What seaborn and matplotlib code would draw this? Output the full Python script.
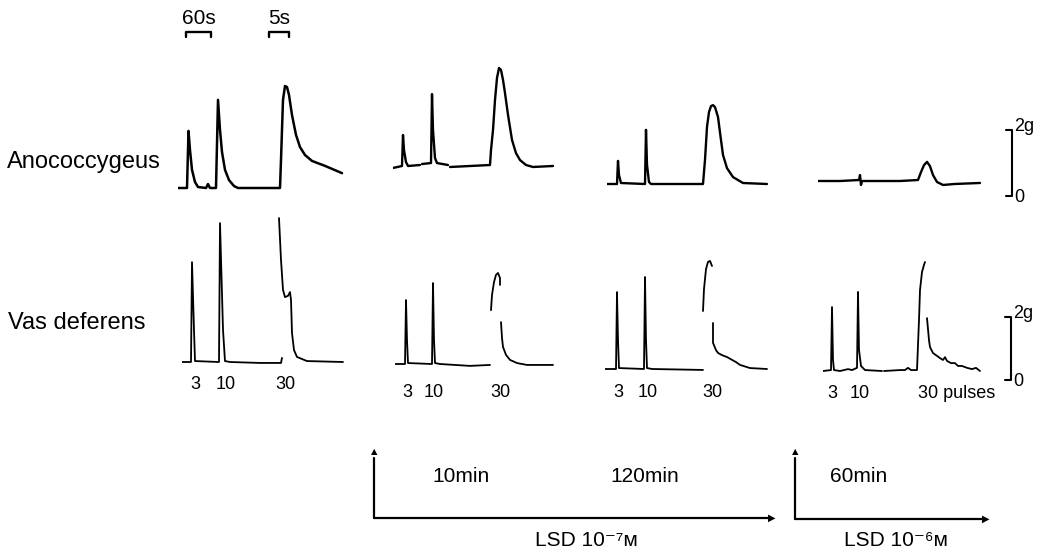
import pandas as pd
import matplotlib.pyplot as plt
import seaborn as sns

sns.set_theme(style="white")
plt.rcParams['font.family'] = ['Liberation Sans', 'DejaVu Sans']
plt.rcParams['text.color'] = 'black'

W, H = 1046, 553

# Trazos digitalizados: segmentos de (tiempo en unidades de papel, tension en g)
# Anococcygeus
ano_control = [[(0, 0), (9, 0), (10.5, 1.73), (12, 1.15), (14, 0.55), (17, 0.18), (20, 0.03), (28, 0),
                (30, 0.12), (31, 0.06), (32, 0), (38, 0), (40, 2.67), (42, 1.76), (44, 1.09), (47, 0.55),
                (51, 0.24), (56, 0.06), (60, 0), (102, 0), (103, 0.85), (104, 1.76), (105, 2.67), (107, 3.09),
                (109, 3.06), (111, 2.82), (114, 2.21), (118, 1.61), (122, 1.24), (127, 1.0), (134, 0.82),
                (147, 0.67), (164, 0.45)]]
ano_10min = [[(0, -0.06), (9, 0), (10, 0.94), (11, 0.48), (13, 0.12), (15, 0), (27, 0.03)],
             [(29, 0.06), (38, 0.09), (39, 2.18), (40, 1.09), (42, 0.24), (44, 0.09), (55, 0.03)],
             [(57, -0.03), (77, 0), (97, 0.03), (98, 0.48), (100, 1.09), (102, 2.0), (104, 2.67), (106, 2.97),
              (108, 2.91), (110, 2.61), (112, 2.21), (115, 1.55), (119, 0.79), (123, 0.39), (127, 0.18),
              (133, 0.03), (140, -0.03), (160, 0)]]
ano_120min = [[(0, 0), (10, 0), (11, 0.70), (12, 0.27), (14, 0.03), (38, 0), (39, 1.64), (40, 0.58),
               (42, 0.06), (44, 0), (96, 0), (98, 0.73), (100, 1.73), (102, 2.18), (104, 2.36), (106, 2.39),
               (108, 2.33), (111, 2.03), (114, 1.33), (116, 0.88), (120, 0.48), (126, 0.21), (136, 0.03),
               (160, 0)]]
ano_60min = [[(0, 0), (22, 0), (41, 0.03), (42, 0.18), (43, -0.12), (44, 0), (82, 0), (100, 0.03),
              (103, 0.27), (106, 0.48), (109, 0.58), (112, 0.45), (115, 0.18), (119, -0.03), (125, -0.12),
              (137, -0.09), (162, -0.06)]]

# Vas deferens
vas_control = [[(0, 0), (9, 0), (10, 3.17), (12, 1.02), (13, 0.03), (37, 0), (38, 4.41), (41, 1.02),
                (43, 0.03), (48, 0), (78, -0.03), (99, -0.03), (100, 0.13)],
               [(97, 4.57), (99, 3.24), (101, 2.29), (103, 2.06), (106, 2.1), (108, 2.22), (109, 1.97),
                (110, 0.92), (112, 0.38), (115, 0.16), (125, 0.03), (161, 0)]]
vas_10min = [[(0, 0), (10, 0), (11, 2.03), (12, 0.76), (13, 0.03), (37, 0), (38, 2.57), (39, 0.76),
              (40, 0.03), (45, 0), (75, -0.06), (95, -0.03)],
             [(96, 1.71), (97, 2.19), (99, 2.6), (101, 2.83), (103, 2.89), (105, 2.73), (105, 2.51)],
             [(106, 1.33), (107, 0.83), (108, 0.54), (111, 0.29), (115, 0.13), (122, 0.03), (132, -0.03),
              (158, -0.03)]]
vas_120min = [[(0, 0), (11, 0), (12, 2.44), (13, 0.92), (14, 0.03), (39, 0), (40, 2.92), (41, 0.92),
               (42, 0.03), (47, 0), (98, -0.03)],
              [(98, 1.84), (99, 2.54), (101, 3.17), (103, 3.40), (105, 3.43), (107, 3.27)],
              [(108, 1.46), (108, 0.83), (111, 0.60), (113, 0.51), (117, 0.44), (122, 0.38), (127, 0.29),
               (131, 0.22), (135, 0.13), (145, 0.03), (162, 0)]]
vas_60min = [[(0, 0), (8, 0.03), (9, 2.03), (10, 0.35), (11, 0.03), (17, 0), (25, 0.06), (29, 0.03),
              (34, 0.10), (35, 2.51), (36, 0.67), (38, 0.16), (42, 0.03), (59, 0)],
             [(61, 0), (77, 0.03), (82, 0.03), (85, 0.10), (88, 0.03), (94, 0.03), (96, 1.62), (97, 2.57),
              (99, 3.14), (101, 3.37), (102, 3.46)],
             [(104, 1.68), (106, 0.98), (107, 0.76), (110, 0.57), (114, 0.48), (117, 0.41), (120, 0.35),
              (122, 0.44), (124, 0.32), (128, 0.25), (132, 0.25), (135, 0.16), (139, 0.16), (144, 0.10),
              (149, 0.06), (153, 0.10), (157, 0)]]

pulsos = ['3', '10', '30']
tiempos = ['10min', '120min', '60min']
tratamientos = ['LSD 10\u207b\u2077\u1d0d', 'LSD 10\u207b\u2076\u1d0d']
tejidos = ['Anococcygeus', 'Vas deferens']

fig = plt.figure(figsize=(W / 100, H / 100), dpi=100)


def panel(x0, base, gpx, segs, lw):
    # ejes con 1 unidad = 1 px en x y gpx px por gramo en y
    ax = fig.add_axes([x0 / W, 1 - (base + gpx) / H, 200 / W, 6 * gpx / H])
    df = pd.DataFrame([(i, t, g) for i, s in enumerate(segs) for t, g in s], columns=['seg', 't', 'g'])
    sns.lineplot(data=df, x='t', y='g', units='seg', estimator=None, sort=False,
                 color='black', lw=lw, ax=ax, legend=False)
    ax.set_xlim(0, 200)
    ax.set_ylim(-1, 5)
    ax.axis('off')
    return ax


# fila superior
ax_a1 = panel(178, 188, 33, ano_control, 1.8)
panel(393, 166, 33, ano_10min, 1.7)
panel(607, 184, 33, ano_120min, 1.7)
ax_a4 = panel(818, 181, 33, ano_60min, 1.7)

# fila inferior
ax_v1 = panel(182, 362, 31.5, vas_control, 1.3)
ax_v2 = panel(395, 364, 31.5, vas_10min, 1.3)
ax_v3 = panel(605, 369, 31.5, vas_120min, 1.3)
ax_v4 = panel(823, 371, 31.5, vas_60min, 1.3)

# numeros de pulsos
for ax, xs, yy in [(ax_v1, [13, 44, 103], -0.73), (ax_v2, [12, 39, 105], -0.92), (ax_v3, [13, 43, 107], -0.76)]:
    for x, p in zip(xs, pulsos):
        ax.text(x, yy, p, ha='center', va='center', fontsize=13)
ax_v4.text(9, -0.70, pulsos[0], ha='center', va='center', fontsize=13)
ax_v4.text(37, -0.70, pulsos[1], ha='center', va='center', fontsize=13)
ax_v4.text(95, -0.70, pulsos[2] + ' pulses', ha='left', va='center', fontsize=13)

# barras de escala 2g
for ax, x, y0, gpx in [(ax_a4, 194, -0.45, 33), (ax_v4, 188, -0.29, 31.5)]:
    tk = 6
    ax.plot([x - tk, x, x, x - tk], [y0 + 2, y0 + 2, y0, y0], color='black', lw=1.5, clip_on=False)
    ax.text(x + 2, y0 + 2 + 0.1, '2g', ha='left', va='center', fontsize=13)
    ax.text(x + 2, y0 - 0.05, '0', ha='left', va='center', fontsize=13)

# escalas de tiempo
for x1, x2, lab in [(8, 33, '60s'), (91, 111, '5s')]:
    ax_a1.plot([x1, x1, x2, x2], [4.58, 4.73, 4.73, 4.58], color='black', lw=1.7, clip_on=False)
    ax_a1.text((x1 + x2) / 2, 5.15, lab, ha='center', va='center', fontsize=15)

# etiquetas de tejido
fig.text(7 / W, 1 - 162 / H, tejidos[0], ha='left', va='center', fontsize=17)
fig.text(8 / W, 1 - 323 / H, tejidos[1], ha='left', va='center', fontsize=17)

# flechas de tiempo de tratamiento
for xv, xh, yb in [(374, 776, 518), (795, 990, 519)]:
    fig.add_artist(plt.Line2D([xv / W, xv / W], [1 - yb / H, 1 - 458 / H], color='black', lw=1.6))
    fig.add_artist(plt.Line2D([xv / W, (xh - 8) / W], [1 - yb / H, 1 - yb / H], color='black', lw=1.6))
    fig.text(xv / W, 1 - 452 / H, '\u25b2', ha='center', va='center', fontsize=6, family='DejaVu Sans')
    fig.text((xh - 4) / W, 1 - yb / H, '\u25b6', ha='center', va='center', fontsize=7, family='DejaVu Sans')

for x, t in zip([432, 610, 830], tiempos):
    fig.text(x / W, 1 - 477 / H, t, ha='left', va='center', fontsize=15)
for x, t in zip([586, 896], tratamientos):
    fig.text(x / W, 1 - 540 / H, t, ha='center', va='center', fontsize=15)

plt.savefig('out.png', dpi=100)
